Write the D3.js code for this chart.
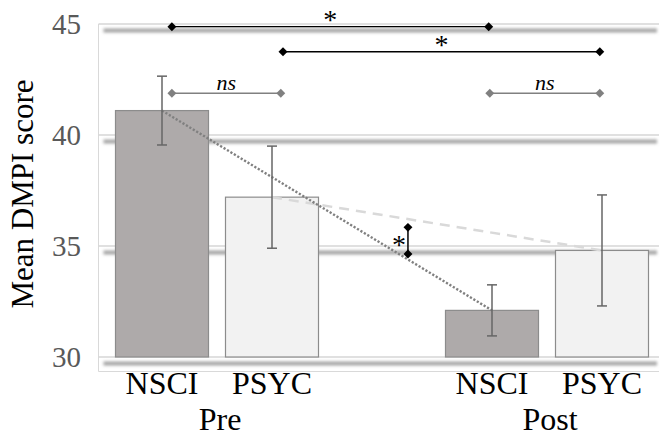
<!DOCTYPE html>
<html>
<head>
<meta charset="utf-8">
<script src="https://cdn.jsdelivr.net/npm/d3@7"></script>
<style>
  html, body { margin: 0; padding: 0; background: #fff; }
  svg { display: block; }
</style>
</head>
<body>
<svg id="chart" width="661" height="438"></svg>
<script>
// Mean DMPI scores by program, before and after
const phases = ["Pre", "Post"];
const programs = ["NSCI", "PSYC"];
const nsciMean = [41.1, 32.1];
const psycMean = [37.2, 34.8];
const nsciErr = [1.55, 1.15];
const psycErr = [2.3, 2.5];
const yTicks = [30, 35, 40, 45];

// slot index of each bar along the category axis (slot 2 is the gap between phases)
const slotIndex = { "Pre NSCI": 0, "Pre PSYC": 1, "Post NSCI": 3, "Post PSYC": 4 };

// horizontal comparison brackets (positions in slot units, height in score units)
const bracketFrom = [0.09, 1.1, 0.09, 2.98];
const bracketTo = [2.97, 3.98, 1.08, 3.98];
const bracketY = [44.88, 43.75, 41.88, 41.88];
const bracketLabel = ["*", "*", "ns", "ns"];
const bracketSig = [true, true, false, false];

// vertical bracket between the two trend lines
const vBracketX = 2.236;
const vBracketY = [34.64, 35.84];
const vBracketLabel = "*";

const svg = d3.select("#chart");
const serif = "Liberation Serif";

const y = d3.scaleLinear().domain([30, 45]).range([357, 24]);
const x = d3.scaleLinear().domain([-0.5, 4.5]).range([107, 657]);
const barW = 93;
const plotLeft = 98.5, plotRight = 659, plotBottom = 371.5;

const bars = [];
phases.forEach((ph, i) => {
  bars.push({ phase: ph, program: "NSCI", mean: nsciMean[i], err: nsciErr[i], slot: slotIndex[ph + " NSCI"] });
  bars.push({ phase: ph, program: "PSYC", mean: psycMean[i], err: psycErr[i], slot: slotIndex[ph + " PSYC"] });
});

const defs = svg.append("defs");
defs.append("filter").attr("id", "soft")
  .attr("filterUnits", "userSpaceOnUse")
  .attr("x", 0).attr("y", 0).attr("width", 661).attr("height", 438)
  .append("feGaussianBlur").attr("stdDeviation", 1.6);

// plot frame (left and bottom)
svg.append("path")
  .attr("d", `M${plotLeft},${y(45)}V${plotBottom}H${plotRight}`)
  .attr("fill", "none").attr("stroke", "#d9d9d9").attr("stroke-width", 1);

// gridlines with soft shadow
const grid = svg.append("g");
grid.selectAll("line.shadow").data(yTicks).join("line")
  .attr("class", "shadow")
  .attr("x1", plotLeft + 5).attr("x2", plotRight - 2)
  .attr("y1", d => y(d) + 6.5).attr("y2", d => y(d) + 6.5)
  .attr("stroke", "#a4a4a4").attr("stroke-width", 4)
  .attr("filter", "url(#soft)");
grid.selectAll("line.thin").data(yTicks).join("line")
  .attr("class", "thin")
  .attr("x1", plotLeft).attr("x2", plotRight)
  .attr("y1", d => y(d)).attr("y2", d => y(d))
  .attr("stroke", "#d6d6d6").attr("stroke-width", 1.3);

// y tick labels
svg.append("g").selectAll("text").data(yTicks).join("text")
  .attr("x", 81).attr("y", d => y(d) + 10)
  .attr("text-anchor", "end")
  .attr("font-family", serif).attr("font-size", 29).attr("fill", "#595959")
  .text(d => d);

// y axis title
svg.append("text")
  .attr("transform", `translate(33,194) rotate(-90)`)
  .attr("text-anchor", "middle")
  .attr("font-family", serif).attr("font-size", 31).attr("fill", "#000")
  .text("Mean DMPI score");

// bars
svg.append("g").selectAll("rect").data(bars).join("rect")
  .attr("x", d => x(d.slot) - barW / 2)
  .attr("width", barW)
  .attr("y", d => y(d.mean))
  .attr("height", d => y(30) - y(d.mean))
  .attr("fill", d => d.program === "NSCI" ? "#aeaaaa" : "#f2f2f2")
  .attr("stroke", "#8c8c8c").attr("stroke-width", 1.2);

// trend lines between phases
const line = d3.line().x(d => x(d.slot)).y(d => y(d.mean));
svg.append("path")
  .datum(bars.filter(d => d.program === "PSYC"))
  .attr("d", line).attr("fill", "none")
  .attr("stroke", "#d9d9d9").attr("stroke-width", 2.5)
  .attr("stroke-dasharray", "10,7");
svg.append("path")
  .datum(bars.filter(d => d.program === "NSCI"))
  .attr("d", line).attr("fill", "none")
  .attr("stroke", "#808080").attr("stroke-width", 2.4)
  .attr("stroke-dasharray", "2.2,1.8");

// error bars
const eb = svg.append("g").attr("stroke", "#666").attr("stroke-width", 1.5);
bars.forEach(d => {
  const cx = x(d.slot);
  eb.append("line").attr("x1", cx).attr("x2", cx).attr("y1", y(d.mean + d.err)).attr("y2", y(d.mean - d.err));
  eb.append("line").attr("x1", cx - 5).attr("x2", cx + 5).attr("y1", y(d.mean + d.err)).attr("y2", y(d.mean + d.err));
  eb.append("line").attr("x1", cx - 5).attr("x2", cx + 5).attr("y1", y(d.mean - d.err)).attr("y2", y(d.mean - d.err));
});

// comparison brackets
const diamond = d3.symbol().type(d3.symbolSquare).size(40);
const br = svg.append("g");
bracketFrom.forEach((f, i) => {
  const col = bracketSig[i] ? "#000" : "#808080";
  const yy = y(bracketY[i]);
  const x1 = x(f), x2 = x(bracketTo[i]);
  br.append("line").attr("x1", x1).attr("x2", x2).attr("y1", yy).attr("y2", yy)
    .attr("stroke", col).attr("stroke-width", 1.3);
  [x1, x2].forEach(px => br.append("path").attr("d", diamond)
    .attr("transform", `translate(${px},${yy}) rotate(45)`).attr("fill", col));
  if (bracketSig[i]) {
    br.append("text").attr("x", (x1 + x2) / 2).attr("y", yy + 2)
      .attr("text-anchor", "middle").attr("font-family", serif).attr("font-size", 28)
      .attr("fill", "#000").text(bracketLabel[i]);
  } else {
    br.append("text").attr("x", (x1 + x2) / 2).attr("y", yy - 3)
      .attr("text-anchor", "middle").attr("font-family", serif).attr("font-size", 22)
      .attr("font-style", "italic").attr("fill", "#000").text(bracketLabel[i]);
  }
});

// vertical bracket
const vx = x(vBracketX);
br.append("line").attr("x1", vx).attr("x2", vx)
  .attr("y1", y(vBracketY[0])).attr("y2", y(vBracketY[1]))
  .attr("stroke", "#000").attr("stroke-width", 1.5);
vBracketY.forEach(v => br.append("path").attr("d", diamond)
  .attr("transform", `translate(${vx},${y(v)}) rotate(45)`).attr("fill", "#000"));
br.append("text").attr("x", vx - 9).attr("y", (y(vBracketY[0]) + y(vBracketY[1])) / 2 + 13)
  .attr("text-anchor", "middle").attr("font-family", serif).attr("font-size", 28)
  .attr("fill", "#000").text(vBracketLabel);

// category labels
svg.append("g").selectAll("text").data(bars).join("text")
  .attr("x", d => x(d.slot)).attr("y", 394)
  .attr("text-anchor", "middle").attr("font-family", serif).attr("font-size", 32).attr("fill", "#000")
  .text(d => d.program);
svg.append("g").selectAll("text").data(phases).join("text")
  .attr("x", ph => (x(slotIndex[ph + " NSCI"]) + x(slotIndex[ph + " PSYC"])) / 2 + 3).attr("y", 430)
  .attr("text-anchor", "middle").attr("font-family", serif).attr("font-size", 32).attr("fill", "#000")
  .text(ph => ph);
</script>
</body>
</html>
